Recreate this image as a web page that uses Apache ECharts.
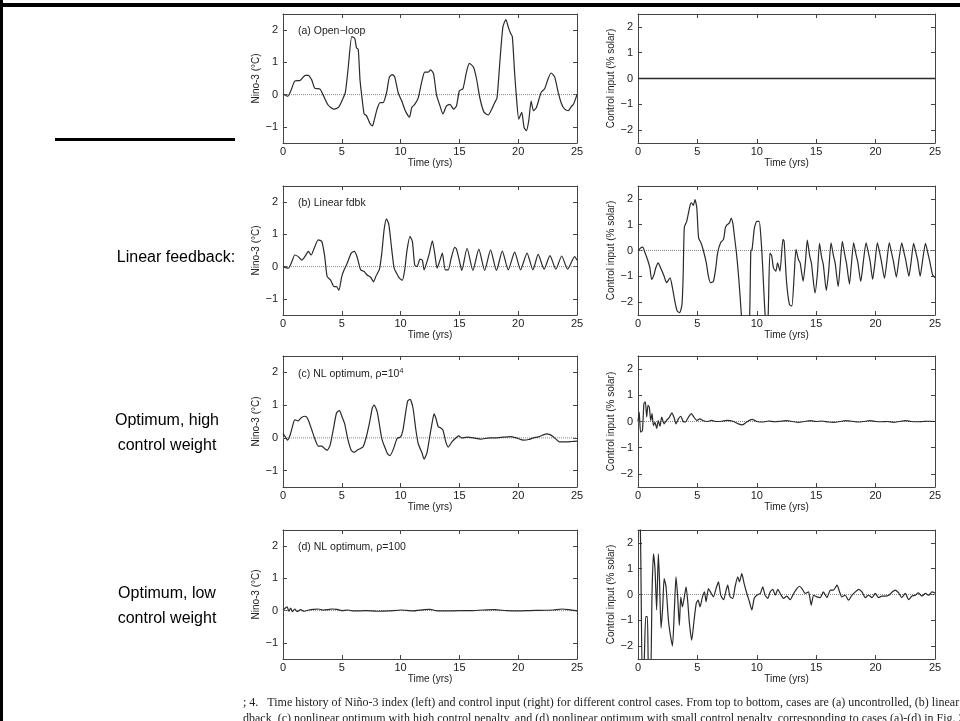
<!DOCTYPE html>
<html>
<head>
<meta charset="utf-8">
<script src="https://cdn.jsdelivr.net/npm/echarts@6.0.0/dist/echarts.min.js"></script>
<style>
html, body { margin: 0; padding: 0; background: #fff; }
#chart { width: 960px; height: 721px; }
</style>
</head>
<body>
<div id="chart"></div>
<script>
// time (yrs), value pairs
const aNino = [[0,0.02],[0.4,-0.05],[0.7,0.15],[1.0,0.42],[1.45,0.44],[1.9,0.6],[2.15,0.6],[2.45,0.45],[2.7,0.2],[3.15,0.17],[3.4,0],[3.85,-0.33],[4.3,-0.45],[4.7,-0.4],[5.0,-0.2],[5.3,0.07],[5.55,0.85],[5.85,1.8],[6.1,1.75],[6.25,1.45],[6.4,1.4],[6.55,0.45],[6.75,-0.2],[6.9,-0.6],[7.1,-0.65],[7.4,-0.9],[7.6,-0.97],[7.75,-0.8],[8.0,-0.45],[8.25,-0.25],[8.5,-0.25],[8.8,0.05],[9.05,0.55],[9.3,0.62],[9.5,0.55],[9.8,0.05],[10.1,-0.2],[10.4,-0.5],[10.75,-0.7],[10.95,-0.4],[11.2,-0.3],[11.5,-0.1],[11.8,0.4],[12.05,0.7],[12.35,0.7],[12.55,0.77],[12.8,0.65],[13.05,0],[13.35,-0.35],[13.6,-0.6],[13.9,-0.35],[14.2,-0.3],[14.5,-0.45],[14.75,-0.35],[15.0,0.12],[15.3,0.18],[15.6,0.7],[15.85,0.97],[16.2,0.85],[16.45,0.5],[16.75,-0.12],[17.1,-0.55],[17.45,-0.63],[17.75,-0.45],[18.0,-0.25],[18.2,-0.1],[18.45,1.06],[18.7,2.1],[18.95,2.33],[19.15,2.1],[19.35,1.9],[19.5,1.8],[19.7,0.65],[19.85,-0.08],[20.05,-0.76],[20.3,-0.55],[20.5,-1.02],[20.7,-1.12],[20.9,-0.8],[21.1,-0.2],[21.3,-0.5],[21.55,-0.4],[21.95,0.07],[22.25,0.18],[22.55,0.5],[22.8,0.67],[23.1,0.55],[23.4,0.07],[23.7,-0.3],[23.95,-0.45],[24.25,-0.5],[24.5,-0.38],[24.7,-0.3],[25,0]];

const aCtrl = [[0,0],[25,0]];

const bNino = [[0,0],[0.45,-0.05],[0.75,0.15],[1.0,0.36],[1.3,0.31],[1.6,0.2],[1.9,0.33],[2.15,0.47],[2.4,0.36],[2.65,0.57],[3.0,0.83],[3.3,0.78],[3.55,0.31],[3.75,-0.3],[4.05,-0.42],[4.35,-0.62],[4.55,-0.62],[4.75,-0.73],[5.0,-0.3],[5.2,-0.1],[5.45,0.1],[5.8,0.42],[6.05,0.47],[6.3,0.3],[6.6,-0.1],[6.9,-0.15],[7.15,-0.26],[7.45,-0.33],[7.7,-0.47],[7.9,-0.3],[8.2,-0.08],[8.4,0.42],[8.6,1.15],[8.8,1.48],[9.0,1.3],[9.25,0.52],[9.45,-0.05],[9.65,-0.2],[9.9,-0.36],[10.15,-0.42],[10.35,-0.1],[10.55,0.52],[10.8,0.94],[11.0,0.78],[11.2,0.05],[11.4,0],[11.65,0.23],[11.85,0.2],[12.0,-0.1],[12.2,0.1],[12.45,0.42],[12.7,0.8],[12.9,0.42],[13.1,-0.05],[13.35,0.2],[13.55,0.42],[13.8,-0.1],[14.05,-0.1],[14.3,0.26],[14.6,0.6],[14.75,0.55],[15.05,0.1],[15.2,-0.12],[15.65,0.57],[16.15,-0.12],[16.65,0.54],[17.15,-0.12],[17.65,0.52],[18.15,-0.12],[18.65,0.48],[19.15,-0.1],[19.7,0.45],[20.2,-0.1],[20.75,0.42],[21.25,-0.1],[21.7,0.38],[22.2,-0.08],[22.7,0.34],[23.2,-0.08],[23.7,0.33],[24.2,-0.08],[24.8,0.31],[25,0.2]];

const bCtrl = [[0,0],[0.22,0.1],[0.4,0.13],[0.6,-0.1],[0.8,-0.35],[1.0,-0.67],[1.15,-1.12],[1.35,-0.93],[1.5,-0.67],[1.7,-0.48],[1.9,-0.67],[2.2,-1.0],[2.4,-1.25],[2.7,-1.06],[2.9,-1.45],[3.1,-1.96],[3.3,-2.35],[3.5,-2.41],[3.7,-2.1],[3.8,-1.0],[3.9,0.9],[4.1,1.13],[4.25,1.46],[4.4,1.78],[4.5,1.85],[4.65,1.75],[4.8,1.97],[4.95,1.65],[5.1,0.49],[5.3,0.3],[5.5,0],[5.75,-0.48],[5.9,-0.93],[6.1,-1.25],[6.35,-1.19],[6.55,-0.67],[6.7,-0.1],[6.95,0.3],[7.2,0.43],[7.35,0.88],[7.5,1.0],[7.7,1.07],[7.85,1.26],[8.0,1.0],[8.1,0.62],[8.3,-0.15],[8.5,-1.19],[8.7,-2.48],[8.9,-4.0],[9.2,-4.0],[9.4,-2.5],[9.5,0],[9.6,0.04],[9.8,0.88],[10.0,1.13],[10.2,1.13],[10.35,0.49],[10.5,-0.67],[10.65,-2.1],[10.8,-3.0],[10.95,-2.6],[11.1,-0.1],[11.25,-0.2],[11.4,-0.67],[11.6,-0.8],[11.75,-0.48],[11.95,-0.8],[12.2,0.43],[12.3,0.36],[12.5,-1.19],[12.75,-2.1],[12.95,-2.15],[13.15,-0.93],[13.3,0.04],[13.5,-0.35],[13.65,-0.48],[13.9,-1.19],[14.1,-0.4],[14.25,0.4],[14.45,-0.2],[14.6,-0.5],[14.9,-1.65],[15.1,-0.9],[15.28,0.28],[15.45,-0.25],[15.6,-0.55],[15.85,-1.55],[16.05,-0.8],[16.25,0.3],[16.45,-0.2],[16.6,-0.5],[16.85,-1.4],[17.0,-0.7],[17.2,0.35],[17.4,-0.15],[17.55,-0.5],[17.8,-1.3],[17.95,-0.6],[18.15,0.3],[18.35,-0.15],[18.5,-0.45],[18.75,-1.2],[18.95,-0.5],[19.2,0.3],[19.4,-0.1],[19.55,-0.45],[19.75,-1.12],[19.95,-0.45],[20.15,0.3],[20.35,-0.1],[20.5,-0.45],[20.75,-1.08],[20.95,-0.4],[21.15,0.3],[21.35,-0.1],[21.5,-0.42],[21.75,-1.03],[21.95,-0.4],[22.2,0.3],[22.4,-0.1],[22.55,-0.4],[22.8,-1.0],[23.0,-0.4],[23.2,0.28],[23.4,-0.1],[23.55,-0.4],[23.75,-1.0],[23.95,-0.4],[24.2,0.28],[24.4,-0.1],[24.55,-0.4],[24.8,-0.95],[25,-1.05]];

const cNino = [[0,0.13],[0.2,0.03],[0.37,-0.07],[0.6,0.08],[0.8,0.34],[1.0,0.55],[1.3,0.52],[1.5,0.6],[1.8,0.66],[2.0,0.64],[2.2,0.5],[2.45,0.24],[2.7,-0.02],[3.0,-0.25],[3.3,-0.25],[3.55,-0.33],[3.75,-0.38],[4.0,-0.23],[4.3,0.3],[4.55,0.76],[4.8,0.83],[5.0,0.66],[5.25,0.42],[5.5,-0.02],[5.8,-0.38],[6.05,-0.44],[6.3,-0.38],[6.55,-0.33],[6.8,-0.28],[7.05,-0.02],[7.35,0.45],[7.6,0.92],[7.75,1.0],[8.0,0.81],[8.2,0.4],[8.4,-0.02],[8.65,-0.28],[8.9,-0.49],[9.1,-0.54],[9.4,-0.33],[9.7,-0.02],[10.0,0.03],[10.2,0.24],[10.4,0.7],[10.6,1.12],[10.8,1.18],[11.05,0.92],[11.3,0.24],[11.5,-0.18],[11.8,-0.44],[12.0,-0.65],[12.25,-0.44],[12.45,-0.02],[12.65,0.4],[12.85,0.73],[13.0,0.6],[13.2,0.34],[13.4,0.31],[13.6,0.24],[13.85,-0.13],[14.05,-0.28],[14.35,-0.13],[14.65,-0.02],[14.95,0.06],[15.2,0],[15.65,0.02],[16.2,0],[16.8,-0.04],[17.6,0],[18.2,0],[18.7,0.02],[19.3,0.04],[19.85,0],[20.45,-0.07],[20.9,-0.05],[21.3,0],[21.7,0.03],[22.2,0.1],[22.4,0.12],[22.7,0.1],[23.1,0],[23.5,-0.12],[24.0,-0.12],[24.55,-0.11],[25,-0.1]];

const cCtrl = [[0,0],[0.1,0.36],[0.22,-0.41],[0.37,-0.35],[0.5,0.68],[0.62,0.75],[0.73,0.17],[0.84,0.62],[0.95,0.55],[1.07,0.04],[1.18,0.3],[1.3,-0.15],[1.43,-0.03],[1.57,-0.26],[1.71,0.03],[1.85,-0.18],[2.0,0.17],[2.2,-0.09],[2.4,0.04],[2.65,0.17],[2.85,0.33],[3.05,0.13],[3.2,-0.09],[3.4,0.1],[3.6,0.2],[3.8,0],[4.0,-0.02],[4.25,0.17],[4.5,0.3],[4.7,0.17],[4.95,0.04],[5.2,0.1],[5.5,0.03],[5.8,0],[6.2,0.04],[6.6,0],[7.05,0.01],[7.5,0.04],[8.0,0.01],[8.45,-0.09],[8.8,-0.13],[9.15,-0.02],[9.6,0.08],[10,0],[10.5,-0.02],[11,0.02],[11.5,-0.01],[12,0.01],[12.5,0.03],[13,0],[13.5,-0.03],[14,0],[14.5,0.03],[15,0],[15.5,0.02],[16,-0.02],[16.5,-0.03],[17,0],[17.5,0.03],[18,0.01],[18.5,-0.02],[19,0],[19.5,0.03],[20,0],[20.5,-0.01],[21,0],[21.5,-0.03],[22,0],[22.5,0.03],[23,0],[23.5,-0.01],[24,0],[24.5,0.01],[25,0]];

const dNino = [[0,0.02],[0.2,0.08],[0.35,0.12],[0.5,-0.02],[0.65,0.08],[0.8,-0.03],[1.0,0.05],[1.2,-0.03],[1.5,0.03],[1.8,-0.02],[2.2,0.02],[2.6,0.04],[3.0,0.05],[3.4,0.02],[3.8,0.03],[4.2,0.05],[4.6,0.04],[5.0,0],[5.5,0.02],[6,-0.01],[7,0],[8,-0.02],[9,-0.01],[10,0.02],[11,-0.01],[12,0.03],[12.5,0.04],[13,0],[14,-0.01],[15,0],[16,0],[17,0.02],[18,0.03],[19,0],[20,-0.01],[21,0],[22,0.01],[23,0.02],[23.7,0.05],[24.3,0.03],[25,-0.01]];

const dCtrl = [[0,3.2],[0.12,3.5],[0.22,2.0],[0.37,-3.5],[0.5,-3.0],[0.65,-0.86],[0.79,-0.86],[0.9,-3.5],[1.05,-3.5],[1.18,0.04],[1.3,1.58],[1.43,1.0],[1.57,-0.6],[1.71,1.58],[1.8,0.68],[1.94,-1.3],[2.08,-0.48],[2.2,0.62],[2.36,0.3],[2.56,-1.0],[2.7,-1.5],[2.9,-2.0],[3.06,-0.6],[3.2,0.68],[3.34,-0.1],[3.48,-1.2],[3.6,-0.1],[3.74,-0.48],[3.88,-0.15],[4.05,0.3],[4.2,-0.35],[4.33,-1.12],[4.52,-1.77],[4.72,-1.0],[4.9,-0.35],[5.06,-0.22],[5.22,-0.48],[5.42,-0.1],[5.6,0.1],[5.73,-0.28],[5.93,0.23],[6.1,0.1],[6.35,-0.09],[6.57,0.23],[6.77,0.49],[6.97,-0.03],[7.2,-0.2],[7.42,0.17],[7.55,0.36],[7.75,-0.09],[7.98,-0.15],[8.17,0.3],[8.4,0.68],[8.54,0.49],[8.74,0.81],[8.93,0.43],[9.16,0.04],[9.38,-0.28],[9.58,-0.6],[9.78,-0.15],[10,-0.03],[10.3,0.04],[10.5,0.3],[10.7,-0.03],[10.93,-0.15],[11.12,0.1],[11.35,0.2],[11.55,-0.03],[11.77,0.2],[11.97,0.04],[12.25,-0.15],[12.53,-0.06],[12.8,-0.2],[13.1,0.04],[13.37,0.23],[13.6,0.32],[13.8,0.23],[14.07,0.04],[14.35,0.1],[14.58,-0.41],[14.78,-0.03],[15.05,-0.09],[15.34,-0.12],[15.6,0.1],[15.9,-0.12],[16.2,0.17],[16.45,0.17],[16.75,0.36],[16.97,0.1],[17.16,-0.09],[17.44,-0.03],[17.72,-0.22],[18.0,-0.03],[18.3,0.1],[18.57,0.2],[18.85,0.1],[19.13,-0.12],[19.4,-0.03],[19.7,-0.12],[19.97,0.04],[20.25,-0.12],[20.53,-0.06],[20.8,-0.06],[21.1,-0.03],[21.4,0.1],[21.66,0.17],[21.94,0.06],[22.2,-0.12],[22.5,0.04],[22.78,-0.2],[23.06,-0.06],[23.34,-0.03],[23.6,0.06],[23.9,-0.06],[24.2,0.04],[24.47,-0.03],[24.75,0.1],[25,0.06]];

const zeroLine = [[0, 0], [25, 0]];

const xTicks = [0, 5, 10, 15, 20, 25];
const ninoTicks = [-1, 0, 1, 2];
const ctrlTicks = [-2, -1, 0, 1, 2];

const ninoTitles = [
  '(a) Open\u2212loop',
  '(b) Linear fdbk',
  '(c) NL optimum, \u03c1=10{sup|4}',
  '(d) NL optimum, \u03c1=100'
];
const sideLabels = ['Linear feedback:', 'Optimum, high\ncontrol weight', 'Optimum, low\ncontrol weight'];
const captionLines = [
  '; 4.   Time history of Ni\u00f1o-3 index (left) and control input (right) for different control cases. From top to bottom, cases are (a) uncontrolled, (b) linear',
  'dback, (c) nonlinear optimum with high control penalty, and (d) nonlinear optimum with small control penalty, corresponding to cases (a)-(d) in Fig. 3.'
];

const ninoData = [aNino, bNino, cNino, dNino];
const ctrlData = [aCtrl, bCtrl, cCtrl, dCtrl];

// layout (px)
const rows = [{ top: 14, h: 129 }, { top: 186, h: 129 }, { top: 356, h: 131 }, { top: 530, h: 129 }];
const leftCol = { left: 283, width: 294 };
const rightCol = { left: 638, width: 297 };

const FONT = '"Liberation Sans", Arial, sans-serif';
const AX = '#444';

const grids = [], xAxes = [], yAxes = [], series = [], titles = [];

// MATLAB style minus sign on tick labels
function tickFmt(v) {
  return v < 0 ? '\u2212' + (-v) : String(v);
}

function addPanel(col, row, data, yMin, yMax, yTicks, yName, yGap, solidZero) {
  const g = grids.length;
  grids.push({ left: col.left, top: row.top, width: col.width, height: row.h });
  const line = { show: true, onZero: false, lineStyle: { color: AX, width: 1 } };
  const tick = { show: true, inside: true, length: 4, lineStyle: { color: AX, width: 1 } };
  xAxes.push({
    type: 'value', gridIndex: g, position: 'bottom', min: 0, max: 25,
    axisLine: line, axisTick: Object.assign({ customValues: xTicks }, tick), splitLine: { show: false },
    axisLabel: { color: '#222', fontSize: 11, fontFamily: FONT, margin: 3, customValues: xTicks },
    name: 'Time (yrs)', nameLocation: 'middle', nameGap: 10,
    nameTextStyle: { color: '#222', fontSize: 10, fontFamily: FONT }
  });
  xAxes.push({
    type: 'value', gridIndex: g, position: 'top', min: 0, max: 25,
    axisLine: line, axisTick: Object.assign({ customValues: xTicks }, tick),
    splitLine: { show: false }, axisLabel: { show: false }
  });
  yAxes.push({
    type: 'value', gridIndex: g, position: 'left', min: yMin, max: yMax,
    axisLine: line, axisTick: Object.assign({ customValues: yTicks }, tick), splitLine: { show: false },
    axisLabel: { color: '#222', fontSize: 11, fontFamily: FONT, margin: 5, customValues: yTicks, formatter: tickFmt },
    name: yName, nameLocation: 'middle', nameGap: yGap,
    nameTextStyle: { color: '#222', fontSize: 10, fontFamily: FONT }
  });
  yAxes.push({
    type: 'value', gridIndex: g, position: 'right', min: yMin, max: yMax,
    axisLine: line, axisTick: Object.assign({ customValues: yTicks }, tick),
    splitLine: { show: false }, axisLabel: { show: false }
  });
  series.push({
    type: 'line', xAxisIndex: 2 * g, yAxisIndex: 2 * g, data: zeroLine,
    showSymbol: false, silent: true, z: 1,
    lineStyle: { color: '#888', width: 1, type: 'dotted' }
  });
  series.push({
    type: 'line', xAxisIndex: 2 * g, yAxisIndex: 2 * g, data: data,
    showSymbol: false, clip: true, z: 2, smooth: solidZero ? false : 0.2,
    lineStyle: { color: '#2a2a2a', width: solidZero ? 1.5 : 1.2 }
  });
}

rows.forEach((row, i) => {
  addPanel(leftCol, row, ninoData[i], -1.5, 2.5, ninoTicks, 'Nino-3 (\u00b0C)', 13, false);
  addPanel(rightCol, row, ctrlData[i], -2.5, 2.5, ctrlTicks, 'Control input (% solar)', 11, i === 0);
  titles.push({
    text: ninoTitles[i], left: leftCol.left + 10, top: row.top + 7,
    textStyle: {
      color: '#222', fontSize: 10.5, fontWeight: 'normal', fontFamily: FONT,
      rich: { sup: { fontSize: 7, verticalAlign: 'top', padding: [0, 0, 6, 0], fontFamily: FONT, color: '#222' } }
    }
  });
});

const labelStyle = { fill: '#000', font: '16px "Liberation Sans", Arial, sans-serif', textAlign: 'center', lineHeight: 25 };
const captionFont = '12px "Liberation Serif", "Times New Roman", serif';
const graphic = [
  { type: 'rect', left: 0, top: 3, shape: { width: 960, height: 4 }, style: { fill: '#000' } },
  { type: 'rect', left: 0, top: 0, shape: { width: 3, height: 721 }, style: { fill: '#000' } },
  { type: 'rect', left: 55, top: 138, shape: { width: 180, height: 3 }, style: { fill: '#000' } },
  { type: 'text', x: 176, y: 258, style: Object.assign({ text: sideLabels[0], textVerticalAlign: 'middle' }, labelStyle) },
  { type: 'text', x: 167, y: 433, style: Object.assign({ text: sideLabels[1], textVerticalAlign: 'middle' }, labelStyle) },
  { type: 'text', x: 167, y: 606, style: Object.assign({ text: sideLabels[2], textVerticalAlign: 'middle' }, labelStyle) },
  { type: 'text', x: 243, y: 703, style: { text: captionLines[0], fill: '#222', font: captionFont, textVerticalAlign: 'middle' } },
  { type: 'text', x: 243, y: 719, style: { text: captionLines[1], fill: '#222', font: captionFont, textVerticalAlign: 'middle' } }
];

const chart = echarts.init(document.getElementById('chart'), null, { renderer: 'canvas' });
chart.setOption({
  animation: false,
  backgroundColor: '#fff',
  title: titles,
  grid: grids,
  xAxis: xAxes,
  yAxis: yAxes,
  series: series,
  graphic: graphic
});
</script>
</body>
</html>
